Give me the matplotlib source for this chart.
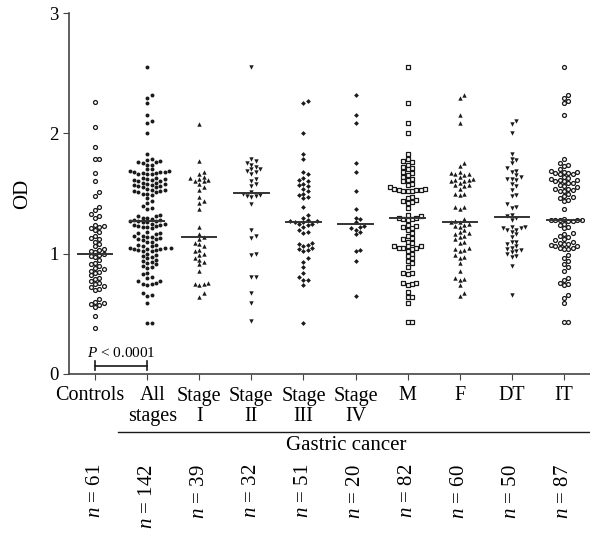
import numpy as np
import matplotlib
matplotlib.use("Agg")
import matplotlib.pyplot as plt
import matplotlib.transforms as mtransforms

plt.rcParams['font.family'] = ['Liberation Serif', 'DejaVu Serif']
plt.rcParams['mathtext.fontset'] = 'custom'
plt.rcParams['mathtext.rm'] = 'Liberation Serif'
plt.rcParams['mathtext.it'] = 'Liberation Serif:italic'

# valori OD
controls = [2.26, 2.05, 1.89, 1.79, 1.79, 1.67, 1.60, 1.51, 1.48, 1.39, 1.36, 1.33, 1.31, 1.30,
            1.24, 1.23, 1.22, 1.21, 1.20, 1.18, 1.15, 1.13, 1.12, 1.10, 1.08, 1.06, 1.04, 1.03,
            1.02, 1.01, 1.00, 0.99, 0.98, 0.97, 0.95, 0.92, 0.91, 0.90, 0.88, 0.87, 0.86, 0.85,
            0.84, 0.82, 0.80, 0.79, 0.77, 0.76, 0.75, 0.73, 0.72, 0.71, 0.70, 0.62, 0.60, 0.59,
            0.58, 0.57, 0.56, 0.48, 0.38]
all_stages = [2.55, 2.32, 2.29, 2.25, 2.15, 2.10, 2.09, 2.00, 1.83,
              1.79, 1.78, 1.77, 1.76, 1.76, 1.75, 1.74, 1.74,
              1.70, 1.70, 1.69, 1.69, 1.68, 1.68, 1.68, 1.67, 1.67, 1.66, 1.66, 1.66,
              1.63, 1.63, 1.62, 1.62, 1.61, 1.61, 1.60, 1.60, 1.59, 1.59, 1.58, 1.58, 1.57, 1.57,
              1.56, 1.56, 1.55, 1.55, 1.54, 1.53, 1.53, 1.52, 1.52, 1.51, 1.51, 1.50, 1.50, 1.49,
              1.46, 1.44, 1.42, 1.40, 1.38, 1.37,
              1.32, 1.31, 1.31, 1.30, 1.30, 1.29, 1.28, 1.28,
              1.27, 1.27, 1.27, 1.26, 1.26, 1.25, 1.25, 1.24, 1.24, 1.23, 1.23, 1.22, 1.22, 1.21,
              1.18, 1.17, 1.17, 1.16, 1.15, 1.15, 1.14, 1.14, 1.13, 1.12, 1.12, 1.11, 1.10, 1.10,
              1.07, 1.07, 1.06, 1.06, 1.05, 1.05, 1.05, 1.04, 1.04, 1.04, 1.03, 1.03, 1.02, 1.02,
              1.00, 0.99, 0.98, 0.97, 0.96, 0.95, 0.94, 0.93,
              0.92, 0.91, 0.90, 0.89, 0.88,
              0.84, 0.83, 0.81, 0.80,
              0.77, 0.77, 0.76, 0.75, 0.75, 0.74,
              0.67, 0.66, 0.65, 0.59, 0.42, 0.42]
stage_1 = [2.08, 1.77, 1.68, 1.66, 1.64, 1.63, 1.62, 1.61, 1.60, 1.60, 1.58, 1.55, 1.53, 1.47,
           1.44, 1.42, 1.37, 1.22, 1.16, 1.14, 1.12, 1.09, 1.08, 1.06, 1.03, 1.02, 1.00, 0.99,
           0.96, 0.95, 0.93, 0.91, 0.86, 0.76, 0.75, 0.75, 0.74, 0.67, 0.64]
stage_2 = [2.55, 1.79, 1.77, 1.75, 1.74, 1.72, 1.70, 1.70, 1.69, 1.68, 1.66, 1.62, 1.60, 1.58,
           1.56, 1.51, 1.50, 1.49, 1.48, 1.48, 1.47, 1.41, 1.20, 1.15, 1.13, 1.00, 0.99, 0.81,
           0.81, 0.67, 0.59, 0.44]
stage_3 = [2.27, 2.25, 2.00, 1.83, 1.79, 1.68, 1.66, 1.63, 1.61, 1.60, 1.58, 1.57, 1.56, 1.54,
           1.52, 1.50, 1.49, 1.47, 1.46, 1.39, 1.32, 1.30, 1.28, 1.27, 1.27, 1.26, 1.26, 1.25,
           1.25, 1.24, 1.22, 1.20, 1.18, 1.17, 1.09, 1.08, 1.07, 1.06, 1.05, 1.04, 1.03, 1.02,
           0.96, 0.93, 0.89, 0.84, 0.81, 0.78, 0.78, 0.74, 0.42]
stage_4 = [2.32, 2.15, 2.09, 1.75, 1.68, 1.52, 1.37, 1.30, 1.29, 1.26, 1.23, 1.22, 1.21, 1.20,
           1.18, 1.16, 1.03, 1.02, 0.94, 0.65]
grp_m = [2.55, 2.25, 2.09, 2.00, 1.83, 1.79, 1.77, 1.76, 1.74, 1.72, 1.71, 1.70, 1.68, 1.67,
         1.65, 1.64, 1.62, 1.61, 1.60, 1.58, 1.57, 1.55, 1.54, 1.54, 1.53, 1.53, 1.53, 1.52,
         1.52, 1.52, 1.47, 1.46, 1.45, 1.44, 1.43, 1.42, 1.38, 1.32, 1.31, 1.30, 1.30, 1.29,
         1.29, 1.28, 1.24, 1.23, 1.22, 1.21, 1.20, 1.17, 1.15, 1.13, 1.12, 1.10, 1.09, 1.06,
         1.06, 1.06, 1.05, 1.05, 1.05, 1.04, 1.02, 1.00, 0.98, 0.96, 0.94, 0.92, 0.89, 0.84,
         0.84, 0.83, 0.76, 0.76, 0.75, 0.74, 0.68, 0.64, 0.64, 0.59, 0.43, 0.43]
grp_f = [2.32, 2.29, 2.15, 2.09, 1.75, 1.73, 1.68, 1.67, 1.66, 1.66, 1.65, 1.64, 1.62, 1.61,
         1.61, 1.60, 1.60, 1.59, 1.57, 1.57, 1.56, 1.54, 1.50, 1.50, 1.49, 1.39, 1.39, 1.37,
         1.29, 1.27, 1.26, 1.26, 1.25, 1.24, 1.23, 1.22, 1.20, 1.18, 1.17, 1.16, 1.15, 1.14,
         1.12, 1.10, 1.09, 1.05, 1.04, 1.03, 1.02, 0.99, 0.97, 0.96, 0.92, 0.86, 0.80, 0.79,
         0.78, 0.74, 0.67, 0.65]
grp_dt = [2.10, 2.08, 2.00, 1.83, 1.79, 1.78, 1.75, 1.71, 1.69, 1.68, 1.65, 1.64, 1.62, 1.62,
          1.61, 1.58, 1.56, 1.53, 1.49, 1.48, 1.41, 1.39, 1.38, 1.32, 1.31, 1.30, 1.28, 1.22,
          1.22, 1.21, 1.21, 1.20, 1.20, 1.18, 1.16, 1.14, 1.10, 1.10, 1.08, 1.06, 1.05, 1.04,
          1.03, 1.02, 1.01, 1.00, 0.98, 0.97, 0.90, 0.66]
grp_it = [2.55, 2.32, 2.29, 2.27, 2.25, 2.15, 1.79, 1.75, 1.74, 1.73, 1.70, 1.69, 1.68, 1.68,
          1.67, 1.67, 1.66, 1.66, 1.64, 1.63, 1.62, 1.61, 1.61, 1.60, 1.60, 1.59, 1.59, 1.57,
          1.56, 1.55, 1.54, 1.54, 1.53, 1.52, 1.52, 1.50, 1.48, 1.47, 1.46, 1.45, 1.44, 1.37,
          1.29, 1.28, 1.28, 1.28, 1.28, 1.28, 1.27, 1.27, 1.25, 1.24, 1.22, 1.21, 1.17, 1.16,
          1.15, 1.14, 1.12, 1.11, 1.10, 1.09, 1.08, 1.08, 1.07, 1.06, 1.06, 1.05, 1.05, 1.04,
          1.04, 0.99, 0.96, 0.94, 0.91, 0.89, 0.86, 0.80, 0.78, 0.76, 0.75, 0.74, 0.66, 0.63,
          0.59, 0.43, 0.43]

groups = [controls, all_stages, stage_1, stage_2, stage_3, stage_4, grp_m, grp_f, grp_dt, grp_it]
labels = ['Controls', 'All\nstages', 'Stage\nI', 'Stage\nII', 'Stage\nIII', 'Stage\nIV',
          'M', 'F', 'DT', 'IT']
counts = [61, 142, 39, 32, 51, 20, 82, 60, 50, 87]

# stile marker per gruppo: (marker, pieno)
stili = [('o', False), ('o', True), ('^', True), ('v', True), ('D', True), ('D', True),
         ('s', False), ('^', True), ('v', True), ('o', False)]
colore = '#1a1a1a'

fig = plt.figure(figsize=(5.9, 5.33), dpi=100)
ax = fig.add_axes([69 / 590, 1 - 374 / 533, 521 / 590, 361 / 533])
ax.set_xlim(-0.5, 9.5)
ax.set_ylim(0, 3)

# sciame: posizioni x calcolate in pixel per evitare sovrapposizioni
px_x = 52.1
px_y = 120.3
diam = 4.4


def swarm(vals, centro):
    vals = np.array(vals)
    order = np.argsort(vals)
    placed = []
    xs = np.zeros(len(vals))
    for i in order:
        y = vals[i] * px_y
        k = 0
        while True:
            cands = [0.0] if k == 0 else [k * diam * 0.5, -k * diam * 0.5]
            ok = None
            for c in cands:
                if all((c - px) ** 2 + (y - py) ** 2 >= diam ** 2 for px, py in placed):
                    ok = c
                    break
            if ok is not None:
                break
            k += 1
        placed.append((ok, y))
        xs[i] = centro + ok / px_x
    return xs


for i, vals in enumerate(groups):
    mk, pieno = stili[i]
    xs = swarm(vals, i)
    size = {'o': 8, 's': 8, '^': 10, 'v': 10, 'D': 6}[mk]
    if pieno:
        ax.scatter(xs, vals, s=size, marker=mk, color=colore, linewidths=0, zorder=3)
    else:
        ax.scatter(xs, vals, s=size, marker=mk, facecolors='white', edgecolors=colore,
                   linewidths=0.9, zorder=3)
    med = np.median(vals)
    ax.plot([i - 0.33, i + 0.33], [med, med], color='#333333', lw=1.4, zorder=4)

# barra P
ax.plot([0, 1], [0.07, 0.07], color=colore, lw=1.2)
ax.plot([0, 0], [0.03, 0.11], color=colore, lw=1.2)
ax.plot([1, 1], [0.03, 0.11], color=colore, lw=1.2)
ax.text(0.5, 0.12, '$P$ < 0.0001', ha='center', va='bottom', fontsize=11)

for s in ['top', 'right']:
    ax.spines[s].set_visible(False)
for s in ['left', 'bottom']:
    ax.spines[s].set_color('#444444')
    ax.spines[s].set_linewidth(1.2)

ax.set_yticks([0, 1, 2, 3])
ax.tick_params(axis='y', labelsize=13.5, length=4, color='#444444')
ax.set_xticks(range(10))
ax.set_xticklabels(labels, fontsize=14.5, linespacing=1.1)
ax.tick_params(axis='x', length=4, pad=5, color='#444444')
ax.set_ylabel('OD', fontsize=15, labelpad=12)

# piccolo spostamento delle prime due etichette, come nell'originale
tl = ax.get_xticklabels()
tl[0].set_transform(tl[0].get_transform() + mtransforms.ScaledTranslation(-4 / 72, 0, fig.dpi_scale_trans))
tl[1].set_transform(tl[1].get_transform() + mtransforms.ScaledTranslation(4 / 72, 0, fig.dpi_scale_trans))

trans = mtransforms.blended_transform_factory(ax.transData, fig.transFigure)
ax.plot([0.44, 9.5], [1 - 432 / 533] * 2, color=colore, lw=1.0, transform=trans, clip_on=False)
ax.text(4.82, 1 - 446 / 533, 'Gastric cancer', ha='center', va='center', fontsize=15,
        transform=trans)
for i, n in enumerate(counts):
    ax.text(i, 1 - 464 / 533, '$n$ = %d' % n, rotation=90, ha='center', va='top',
            fontsize=15, transform=trans)

fig.savefig('out.png', dpi=100)
